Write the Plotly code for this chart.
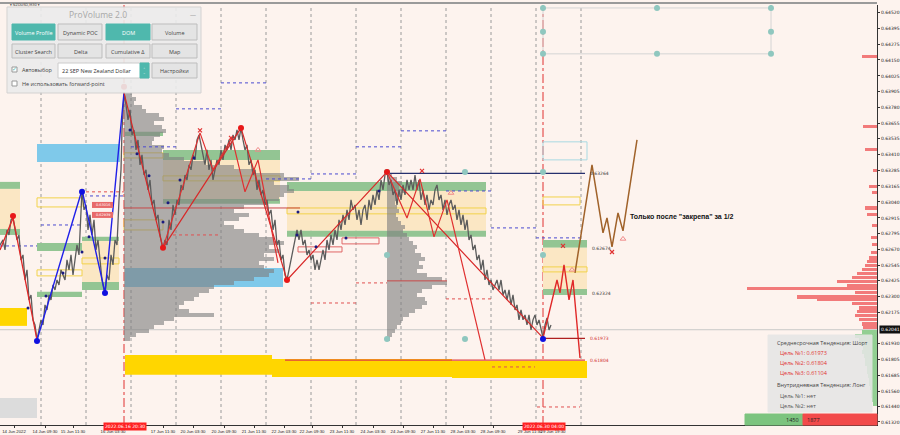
import plotly.graph_objects as go
import numpy as np

# ---- price path (bar index, price) ----
price_path = [
    (0, 0.62704), (3, 0.62743), (5, 0.62665), (7, 0.62821), (9, 0.62782), (11, 0.62900), (13, 0.62915),
    (15, 0.62821), (17, 0.62743), (19, 0.62782), (21, 0.62587), (23, 0.62626), (25, 0.62430), (27, 0.62509),
    (29, 0.62274), (31, 0.62313), (33, 0.62118), (35, 0.62078), (37, 0.61961), (39, 0.62039), (41, 0.62118),
    (43, 0.62078), (45, 0.62235), (47, 0.62196), (49, 0.62313), (51, 0.62274), (53, 0.62391), (55, 0.62352),
    (57, 0.62430), (59, 0.62391), (61, 0.62509), (63, 0.62469), (65, 0.62430), (67, 0.62587), (69, 0.62509),
    (71, 0.62626), (73, 0.62469), (75, 0.62587), (77, 0.62704), (79, 0.62626), (80, 0.62821), (81, 0.63017),
    (82, 0.63134), (84, 0.62978), (86, 0.63017), (88, 0.62821), (90, 0.62939), (92, 0.62782), (94, 0.62900),
    (96, 0.62665), (98, 0.62743), (100, 0.62587), (102, 0.62430), (104, 0.62352), (105, 0.62329), (107, 0.62469),
    (109, 0.62430), (111, 0.62626), (113, 0.62548), (115, 0.62743), (117, 0.62704), (119, 0.63056), (121, 0.63291),
    (122, 0.63603), (123, 0.63760), (124, 0.63893), (126, 0.63799), (128, 0.63682), (130, 0.63760), (132, 0.63564),
    (134, 0.63603), (136, 0.63447), (138, 0.63525), (140, 0.63330), (142, 0.63408), (144, 0.63251), (146, 0.63291),
    (148, 0.63134), (150, 0.63212), (152, 0.63017), (154, 0.63056), (156, 0.62900), (158, 0.62939), (160, 0.62782),
    (162, 0.62704), (163, 0.62681), (165, 0.62743), (167, 0.62704), (169, 0.62900), (171, 0.62821), (173, 0.63017),
    (175, 0.62939), (177, 0.63056), (179, 0.63017), (181, 0.63173), (183, 0.63134), (185, 0.63251), (187, 0.63212),
    (189, 0.63330), (191, 0.63291), (193, 0.63408), (195, 0.63369), (197, 0.63525), (199, 0.63564), (201, 0.63486),
    (203, 0.63408), (205, 0.63330), (207, 0.63447), (209, 0.63291), (211, 0.63369), (213, 0.63212), (215, 0.63291),
    (217, 0.63369), (219, 0.63330), (221, 0.63447), (223, 0.63369), (225, 0.63486), (227, 0.63447), (229, 0.63525),
    (231, 0.63447), (233, 0.63564), (235, 0.63525), (237, 0.63603), (239, 0.63525), (241, 0.63619), (243, 0.63525),
    (245, 0.63447), (247, 0.63486), (249, 0.63330), (251, 0.63369), (253, 0.63251), (255, 0.63291), (257, 0.63134),
    (259, 0.63212), (261, 0.63095), (263, 0.63134), (265, 0.63017), (267, 0.63056), (269, 0.62939), (271, 0.62978),
    (273, 0.62821), (275, 0.62900), (277, 0.62704), (279, 0.62743), (281, 0.62587), (283, 0.62626), (285, 0.62469),
    (287, 0.62430), (289, 0.62509), (291, 0.62587), (293, 0.62665), (295, 0.62743), (297, 0.62821), (299, 0.62743),
    (301, 0.62821), (303, 0.62704), (305, 0.62743), (307, 0.62626), (309, 0.62665), (311, 0.62587), (313, 0.62626),
    (315, 0.62509), (317, 0.62587), (319, 0.62509), (321, 0.62587), (323, 0.62665), (325, 0.62587), (327, 0.62743),
    (329, 0.62665), (331, 0.62782), (333, 0.62704), (335, 0.62821), (337, 0.62743), (339, 0.62900), (341, 0.62821),
    (343, 0.62939), (345, 0.62860), (347, 0.62978), (349, 0.62900), (351, 0.63056), (353, 0.62978), (355, 0.63017),
    (357, 0.62900), (359, 0.62978), (361, 0.62860), (363, 0.62978), (365, 0.63017), (367, 0.62900), (369, 0.63056),
    (371, 0.62978), (373, 0.63095), (375, 0.63017), (377, 0.63134), (379, 0.63056), (381, 0.63212), (383, 0.63134),
    (385, 0.63251), (387, 0.63275), (389, 0.63173), (391, 0.63212), (393, 0.63095), (395, 0.63134), (397, 0.63017),
    (399, 0.63134), (401, 0.63056), (403, 0.63173), (405, 0.63095), (407, 0.63212), (409, 0.63134), (411, 0.63212),
    (413, 0.63134), (415, 0.63251), (417, 0.63134), (419, 0.63212), (421, 0.63056), (423, 0.63134), (425, 0.63017),
    (427, 0.63095), (429, 0.62978), (431, 0.63056), (433, 0.63017), (435, 0.63134), (437, 0.63173), (439, 0.63056),
    (441, 0.63095), (443, 0.62978), (445, 0.63056), (447, 0.62939), (449, 0.63017), (451, 0.63056), (453, 0.62978),
    (455, 0.63017), (457, 0.62900), (459, 0.62978), (461, 0.62860), (463, 0.62939), (465, 0.62821), (467, 0.62900),
    (469, 0.62743), (471, 0.62782), (473, 0.62665), (475, 0.62704), (477, 0.62587), (479, 0.62626), (481, 0.62509),
    (483, 0.62587), (485, 0.62430), (487, 0.62509), (489, 0.62391), (491, 0.62430), (493, 0.62352), (495, 0.62391),
    (497, 0.62430), (499, 0.62352), (501, 0.62430), (503, 0.62313), (505, 0.62352), (507, 0.62274), (509, 0.62352),
    (511, 0.62235), (513, 0.62313), (515, 0.62196), (517, 0.62235), (519, 0.62118), (521, 0.62196), (523, 0.62118),
    (525, 0.62157), (527, 0.62078), (529, 0.62157), (531, 0.62039), (533, 0.62118), (535, 0.62157), (537, 0.62078),
    (539, 0.62118), (541, 0.62039), (543, 0.61977), (545, 0.62078), (547, 0.62133), (549, 0.62039), (551, 0.62078),
]

# zigzag swings
red_a_x = [0, 13, 37]
red_a_y = [0.62665, 0.62915, 0.61961]
blue_x = [37, 82, 105, 124]
blue_y = [0.61961, 0.63134, 0.62329, 0.63893]
red_main_x = [124, 163, 241, 287, 387, 543]
red_main_y = [0.63893, 0.62681, 0.63619, 0.62430, 0.63275, 0.61977]
red_m1_x = [163, 200, 213, 232, 245, 258, 278]
red_m1_y = [0.62681, 0.63580, 0.63291, 0.63541, 0.63119, 0.63369, 0.62563]
red_m2_x = [387, 407, 420, 434, 447, 485]
red_m2_y = [0.63275, 0.62915, 0.63220, 0.62767, 0.63056, 0.61805]
red_c_x = [543, 557, 560, 564, 569, 573, 580]
red_c_y = [0.61977, 0.62430, 0.62329, 0.62548, 0.62274, 0.62430, 0.61820]
brown_x = [575, 592, 603, 607, 612, 618, 623, 637]
brown_y = [0.62485, 0.63330, 0.62798, 0.62915, 0.62688, 0.62954, 0.62814, 0.63525]

red_pts_x = [13, 124, 163, 241, 287, 387]
red_pts_y = [0.62931, 0.63940, 0.62681, 0.63619, 0.62430, 0.63275]
blue_pts_x = [37, 82, 105, 543]
blue_pts_y = [0.61953, 0.63119, 0.62329, 0.61969]
navy_pts_x = [130, 137, 149, 163, 168, 180, 194, 82, 89, 105, 63, 46, 28, 298, 297, 316, 346, 379]
navy_pts_y = [0.63603, 0.63416, 0.63244, 0.62884, 0.63033, 0.63212, 0.63384, 0.62649, 0.62767, 0.62602,
              0.62485, 0.62305, 0.62211, 0.62962, 0.62782, 0.62689, 0.62759, 0.63126]
cross_x = [200, 231, 422, 563, 612]
cross_y = [0.63600, 0.63541, 0.63283, 0.62696, 0.62649]
arrow_x = [258, 451, 572, 623]
arrow_y = [0.63447, 0.63110, 0.62509, 0.62751]
handle_x = [543, 657, 771, 543, 771, 543, 657, 771, 387, 465, 543, 387, 543, 387, 465]
handle_y = [0.64557, 0.64557, 0.64557, 0.64370, 0.64370, 0.64198, 0.64198, 0.64198,
            0.63275, 0.63275, 0.63275, 0.62626, 0.62626, 0.61969, 0.61969]

# volume profiles (top level price, bin step, widths in bars)
vol_step = 0.000313
vol1_start, vol1_top = 124, 0.63877
vol1_widths = [8, 12, 10, 18, 22, 35, 40, 30, 38, 42, 36, 30, 28, 40, 38, 45, 60, 80, 110, 130,
               160, 175, 150, 165, 170, 160, 155, 140, 120, 110, 125, 115, 100, 110, 120, 135, 150, 160, 145, 155,
               140, 150, 135, 140, 150, 145, 130, 110, 90, 85, 75, 70, 60, 55, 65, 90, 50, 40, 30, 25, 12, 6]
vol2_start, vol2_top = 387, 0.63252
vol2_widths = [5, 10, 15, 12, 18, 14, 10, 8, 10, 12, 9, 11, 14, 18, 16, 20, 22, 26, 30, 28,
               34, 38, 32, 36, 30, 40, 55, 60, 45, 35, 30, 38, 40, 35, 28, 22, 16, 14, 10, 8, 5, 3]

# right side DOM
dom_red_p = [0.64174, 0.63627, 0.63447, 0.63283, 0.63158, 0.63111, 0.62993, 0.62939, 0.62853, 0.62759,
             0.62704, 0.62642, 0.62602, 0.62571, 0.62540, 0.62509, 0.62477, 0.62446, 0.62415, 0.62383,
             0.62360, 0.62329, 0.62297, 0.62274, 0.62243, 0.62211, 0.62180, 0.62149, 0.62118, 0.62086, 0.62055]
dom_red_v = [15, 14, 12, 4, 8, 5, 12, 10, 5, 6, 5, 6, 8, 10, 12, 15, 20, 25, 40, 30,
             130, 22, 80, 60, 25, 18, 20, 22, 18, 15, 14]
dom_green_p = [0.62024, 0.61992, 0.61961, 0.61930, 0.61899, 0.61867, 0.61836, 0.61805, 0.61773, 0.61742,
               0.61711, 0.61680, 0.61648, 0.61617, 0.61586, 0.61555, 0.61523, 0.61492, 0.61461]
dom_green_v = [15, 22, 18, 16, 14, 15, 13, 12, 12, 10, 10, 9, 8, 8, 7, 6, 6, 5, 4]

# zones (x0, x1, top, bottom, kind)
zones = [
    (37, 120, 0.63494, 0.63353, 'blue'), (125, 283, 0.62524, 0.62376, 'blue'),
    (0, 20, 0.63197, 0.63142, 'green'), (0, 20, 0.63142, 0.62829, 'orange'), (0, 20, 0.62829, 0.62782, 'green'),
    (37, 82, 0.62720, 0.62657, 'green'), (37, 82, 0.62337, 0.62297, 'green'),
    (82, 119, 0.62767, 0.62735, 'green'), (82, 119, 0.62735, 0.62415, 'orange'), (82, 119, 0.62415, 0.62352, 'green'),
    (0, 27, 0.62211, 0.62071, 'gold'), (0, 37, 0.61508, 0.61351, 'gray'),
    (125, 163, 0.63588, 0.63556, 'green'),
    (163, 280, 0.63447, 0.63369, 'green'), (163, 280, 0.63369, 0.63056, 'orange'), (163, 280, 0.63064, 0.63025, 'green'),
    (287, 486, 0.63197, 0.63126, 'green'), (287, 486, 0.63126, 0.62814, 'orange'), (287, 486, 0.62814, 0.62767, 'green'),
    (543, 587, 0.62743, 0.62681, 'green'), (543, 587, 0.62681, 0.62360, 'orange'), (543, 587, 0.62360, 0.62313, 'green'),
    (125, 272, 0.61844, 0.61688, 'gold'), (272, 452, 0.61813, 0.61672, 'gold'), (452, 587, 0.61797, 0.61664, 'gold'),
]
boxes = [
    (37, 82, 0.63072, 0.63001, 'yellow'), (37, 82, 0.62509, 0.62462, 'yellow'), (82, 119, 0.62602, 0.62556, 'yellow'),
    (124, 163, 0.63424, 0.63384, 'yellow'), (124, 163, 0.62900, 0.62821, 'yellow'), (163, 280, 0.63244, 0.63205, 'yellow'),
    (287, 486, 0.62993, 0.62947, 'yellow'), (543, 587, 0.62532, 0.62493, 'yellow'), (543, 580, 0.63079, 0.63017, 'yellow'),
    (298, 342, 0.62689, 0.62649, 'red'), (342, 379, 0.62759, 0.62712, 'red'),
    (543, 587, 0.63510, 0.63369, 'cyan'), (543, 771, 0.64557, 0.64198, 'handle'),
]
blue_dotted = [(0, 37, 0.62696), (41, 82, 0.62860), (90, 124, 0.63087), (131, 176, 0.63471), (176, 221, 0.63768),
               (221, 266, 0.63971), (266, 311, 0.63220), (311, 356, 0.63259), (356, 401, 0.63471), (401, 446, 0.63596),
               (446, 491, 0.63126), (491, 536, 0.62837), (536, 581, 0.62759)]
red_dotted = [(86, 124, 0.63119), (173, 220, 0.62782), (311, 356, 0.62250), (356, 387, 0.62407),
              (446, 491, 0.62282), (492, 535, 0.61750), (537, 580, 0.61437)]
red_solid = [(124, 300, 0.62993), (387, 447, 0.62423)]
levels = [(387, 585, 0.63264, '#26306e', '0.63264', '#333333'), (543, 585, 0.61973, '#b02020', '0.61973', '#d03030'),
          (285, 585, 0.61804, '#e04040', '0.61804', '#d03030')]
level_labels = [(0.62674, '0.62674'), (0.62324, '0.62324')]
sep_x = [41, 86, 131, 176, 221, 266, 311, 356, 401, 446, 491, 536, 581]
signal_x = [124, 543]
last_price = 0.62041

y_ticks = [0.64520, 0.64395, 0.64275, 0.64150, 0.64025, 0.63905, 0.63780, 0.63655, 0.63535, 0.63410,
           0.63285, 0.63165, 0.63040, 0.62915, 0.62795, 0.62670, 0.62545, 0.62425, 0.62300, 0.62175,
           0.61930, 0.61805, 0.61685, 0.61560, 0.61440, 0.61320]
x_ticks = [14, 45, 73, 113, 163, 193, 224, 254, 284, 312, 342, 373, 403, 433, 463, 493, 530, 553]
x_labels = ['14 Jun 2022', '14 Jun 09:30', '15 Jun 11:30', '16 Jun 03:30', '17 Jun 11:30', '20 Jun 03:30',
            '20 Jun 09:30', '21 Jun 11:30', '22 Jun 03:30', '22 Jun 09:30', '23 Jun 11:30', '24 Jun 03:30',
            '24 Jun 09:30', '27 Jun 11:30', '28 Jun 03:30', '28 Jun 09:30', '29 Jun 11:30', '29 Jun 19:30']

BG = '#fdf3ee'
zone_colors = {'green': '#93c593', 'orange': '#fbe7c4', 'blue': '#7fc9ea', 'gold': '#ffd600', 'gray': '#dcdcdc'}
box_colors = {'yellow': '#f2d24a', 'red': '#e06666', 'cyan': '#a9d9e2', 'handle': '#d4d4d4'}
TEAL = '#4fb8ad'

fig = go.Figure()

for x0, x1, top, bot, kind in zones:
    fig.add_shape(type='rect', x0=x0, x1=x1, y0=bot, y1=top, fillcolor=zone_colors[kind],
                  line_width=0, layer='below')
for x0, x1, top, bot, kind in boxes:
    fig.add_shape(type='rect', x0=x0, x1=x1, y0=bot, y1=top, line=dict(color=box_colors[kind], width=1),
                  layer='below')
for x in sep_x:
    fig.add_shape(type='line', x0=x, x1=x, y0=0, y1=1, yref='paper',
                  line=dict(color='#9a9a9a', width=1, dash='dot'), layer='below')
for x in signal_x:
    fig.add_shape(type='line', x0=x, x1=x, y0=0, y1=1, yref='paper',
                  line=dict(color='#e03030', width=1, dash='dashdot'), layer='below')
fig.add_shape(type='line', x0=0, x1=877, y0=last_price, y1=last_price, line=dict(color='#c8c8c8', width=1),
              layer='below')

# volume profiles
for start, top, widths in [(vol1_start, vol1_top, vol1_widths), (vol2_start, vol2_top, vol2_widths)]:
    lv = top - vol_step * np.arange(len(widths))
    fig.add_trace(go.Bar(y=lv, x=widths, base=start, orientation='h', width=vol_step,
                         marker=dict(color='rgba(128,128,128,0.62)', line_width=0), hoverinfo='skip'))

# DOM
fig.add_trace(go.Bar(y=dom_red_p, x=[-v for v in dom_red_v], base=877, orientation='h', width=0.00024,
                     marker=dict(color='#f27a7a', line_width=0), hoverinfo='skip'))
fig.add_trace(go.Bar(y=dom_green_p, x=[-v for v in dom_green_v], base=877, orientation='h', width=0.00028,
                     marker=dict(color='#92cf92', line_width=0), hoverinfo='skip'))


def seg_trace(segs, color, dash='solid', width=1):
    xs, ys = [], []
    for x0, x1, p in segs:
        xs += [x0, x1, None]
        ys += [p, p, None]
    return go.Scatter(x=xs, y=ys, mode='lines', line=dict(color=color, width=width, dash=dash), hoverinfo='skip')


fig.add_trace(seg_trace(blue_dotted, '#4a4ad0', 'dot'))
fig.add_trace(seg_trace(red_dotted, '#e05050', 'dot'))
fig.add_trace(seg_trace(red_solid, '#c84848', 'solid'))

# price
px_, py_ = zip(*price_path)
fig.add_trace(go.Scatter(x=px_, y=py_, mode='lines', line=dict(color='#5c5c5c', width=1.3), hoverinfo='skip'))

# zigzags
for xs, ys, c, w in [(red_a_x, red_a_y, '#e02828', 1.3), (blue_x, blue_y, '#2020e8', 1.4),
                     (red_main_x, red_main_y, '#d82828', 1.2), (red_m1_x, red_m1_y, '#e03030', 1.2),
                     (red_m2_x, red_m2_y, '#e03030', 1.2), (red_c_x, red_c_y, '#e02828', 1.4),
                     (brown_x, brown_y, '#a0622a', 1.5)]:
    fig.add_trace(go.Scatter(x=xs, y=ys, mode='lines', line=dict(color=c, width=w), hoverinfo='skip'))

for x0, x1, p, c, _, _ in levels:
    fig.add_trace(go.Scatter(x=[x0, x1], y=[p, p], mode='lines', line=dict(color=c, width=1.3), hoverinfo='skip'))

fig.add_trace(go.Scatter(x=handle_x, y=handle_y, mode='markers',
                         marker=dict(color='#8fc7bf', size=6), hoverinfo='skip'))
fig.add_trace(go.Scatter(x=navy_pts_x, y=navy_pts_y, mode='markers',
                         marker=dict(color='#1a1a80', size=3), hoverinfo='skip'))
fig.add_trace(go.Scatter(x=red_pts_x, y=red_pts_y, mode='markers',
                         marker=dict(color='#e81818', size=6), hoverinfo='skip'))
fig.add_trace(go.Scatter(x=blue_pts_x, y=blue_pts_y, mode='markers',
                         marker=dict(color='#1010e0', size=6), hoverinfo='skip'))
fig.add_trace(go.Scatter(x=cross_x, y=cross_y, mode='markers',
                         marker=dict(color='#e03030', size=4, symbol='x-thin', line=dict(width=1.2, color='#e03030')),
                         hoverinfo='skip'))
fig.add_trace(go.Scatter(x=arrow_x, y=arrow_y, mode='markers',
                         marker=dict(color='#f08a8a', size=5, symbol='triangle-up-open', line=dict(width=1)),
                         hoverinfo='skip'))

# level labels
for x0, x1, p, c, txt, tc in levels:
    fig.add_annotation(x=x1 + 3, y=p, text=txt, showarrow=False, xanchor='left',
                       font=dict(size=4.5, color=tc, family='DejaVu Sans'))
for p, txt in level_labels:
    fig.add_annotation(x=590, y=p, text=txt, showarrow=False, xanchor='left',
                       font=dict(size=4.5, color='#333', family='DejaVu Sans'))

fig.add_annotation(x=628, y=0.62920, text='<b>Только после "закрепа" за 1/2</b>', showarrow=False,
                   xanchor='left', font=dict(size=7, color='#111', family='Liberation Sans'))

# red price tags
for x0, top, bot, txt in [(92, 0.63040, 0.62993, '0.63016'), (92, 0.62962, 0.62915, '0.62939')]:
    fig.add_shape(type='rect', x0=x0, x1=x0 + 21, y0=bot, y1=top, fillcolor='#e86a6a', line_width=0)
    fig.add_annotation(x=x0 + 10.5, y=(top + bot) / 2, text=txt, showarrow=False,
                       font=dict(size=3.5, color='white', family='DejaVu Sans'))


# ---------- overlay UI in screen space ----------
def fx(px):
    return px / 877


def fy(py):
    return 1 - (py - 5) / 420


def rect(x0, y0, x1, y1, fill, line='#c8c8c8', opacity=1.0):
    fig.add_shape(type='rect', xref='paper', yref='paper', x0=fx(x0), x1=fx(x1), y0=fy(y1), y1=fy(y0),
                  fillcolor=fill, line=dict(color=line, width=1), opacity=opacity, layer='above')


def text(x, y, s, size=5.5, color='#444', anchor='center', family='Open Sans', bg=None):
    fig.add_annotation(xref='paper', yref='paper', x=fx(x), y=fy(y), text=s, showarrow=False, xanchor=anchor,
                       yanchor='middle', font=dict(size=size, color=color, family=family),
                       bgcolor=bg, borderpad=1)


# frame
fig.add_shape(type='line', xref='paper', yref='paper', x0=0, x1=1, y0=fy(3), y1=fy(3),
              line=dict(color='#9a9a9a', width=2))
text(8, 5, '▾ NZDUSD,M30 ▾', size=3.5, anchor='left', family='DejaVu Sans', color='#333')

# ProVolume panel
rect(7, 7, 201, 93, '#ececec', '#cfcfcf', 0.9)
text(98, 14, 'ProVolume 2.0', size=8.5, color='#a8a8a8')
text(193, 15, '—', size=6, color='#888')
buttons = [('Volume Profile', True), ('Dynamic POC', False), ('DOM', True), ('Volume', False),
           ('Cluster Search', False), ('Delta', False), ('Cumulative Δ', False), ('Map', False)]
bx = [(12, 55), (58, 102), (106, 150), (152, 197)]
for i, (lab, active) in enumerate(buttons):
    x0, x1 = bx[i % 4]
    y0, y1 = (24, 40) if i < 4 else (44, 58)
    rect(x0, y0, x1, y1, TEAL if active else '#e4e4e4', '#bdbdbd' if not active else TEAL)
    text((x0 + x1) / 2, (y0 + y1) / 2 + 1, lab, size=5.5, color='white' if active else '#444')
rect(12, 67, 17, 72, 'white', '#999')
text(14.5, 69, '✓', size=6, color=TEAL)
text(20, 70, 'Автовыбор', size=5.5, anchor='left')
rect(58, 63, 149, 78, 'white', '#cccccc')
rect(140, 63, 149, 78, TEAL, TEAL)
text(144.5, 70.5, '⌃<br>⌄', size=3, color='white')
text(60, 70.5, '22 SEP New Zealand Dollar', size=5.5, anchor='left', color='#333')
rect(152, 63, 197, 78, '#e4e4e4', '#bdbdbd')
text(174.5, 70.5, 'Настройки', size=5.5)
rect(12, 81, 17, 86, 'white', '#999')
text(20, 84, 'Не использовать forward-point', size=5.5, anchor='left')

# trend panel
rect(768, 335, 872, 412, '#e6e6e6', '#e6e6e6', 0.88)
info = [(343, 'Среднесрочная Тенденция: Шорт', '#444', 775), (353, 'Цель №1: 0.61973', '#e03030', 778),
        (363, 'Цель №2: 0.61804', '#e03030', 778), (373, 'Цель №3: 0.61104', '#e03030', 778),
        (385, 'Внутридневная Тенденция: Лонг', '#444', 775), (396, 'Цель №1: нет', '#555', 778),
        (406, 'Цель №2: нет', '#555', 778)]
for y, s, c, x in info:
    text(x, y, s, size=5.5, color=c, anchor='left')
rect(745, 414, 803, 425, '#7cc47f', '#7cc47f')
rect(803, 414, 877, 425, '#f24a4a', '#f24a4a')
text(801, 419.5, '1450', size=5.5, color='#222', anchor='right')
text(805, 419.5, '1877', size=5.5, color='#222', anchor='left')

# axis tags
fig.add_annotation(x=125, y=fy(430.5), xref='x', yref='paper', text='2022.06.16 20:30', showarrow=False,
                   bgcolor='#ff2222', font=dict(size=4.5, color='white', family='DejaVu Sans'), borderpad=1)
fig.add_annotation(x=544, y=fy(430.5), xref='x', yref='paper', text='2022.06.30 04:00', showarrow=False,
                   bgcolor='#ff2222', font=dict(size=4.5, color='white', family='DejaVu Sans'), borderpad=1)
fig.add_annotation(x=1.002, y=last_price, xref='paper', yref='y', text='0.62041', showarrow=False,
                   xanchor='left', bgcolor='#111', font=dict(size=4.5, color='white', family='DejaVu Sans'),
                   borderpad=1)

fig.update_layout(
    width=900, height=435,
    margin=dict(l=0, r=23, t=5, b=10, autoexpand=False),
    paper_bgcolor=BG, plot_bgcolor=BG,
    showlegend=False, barmode='overlay', bargap=0,
    xaxis=dict(range=[0, 877], showgrid=False, zeroline=False, showline=True, linecolor='#333', linewidth=1,
               tickvals=x_ticks, ticktext=x_labels, ticks='outside', ticklen=2, tickcolor='#333', tickangle=0,
               ticklabeloverflow='allow',
               tickfont=dict(size=4.3, color='#222', family='Liberation Sans'), fixedrange=True),
    yaxis=dict(range=[0.61296, 0.64580], side='right', showgrid=False, zeroline=False, showline=True,
               linecolor='#333', linewidth=1, tickvals=y_ticks, ticktext=[f'{v:.5f}' for v in y_ticks],
               ticks='outside', ticklen=2, tickcolor='#333',
               tickfont=dict(size=4.5, color='#222', family='DejaVu Sans'), fixedrange=True),
)

# the page has a default body margin; remove it so the figure sits at the window's corner
fig.write_html("out.html", config={'displayModeBar': False},
               post_script="document.body.style.margin='0';")
